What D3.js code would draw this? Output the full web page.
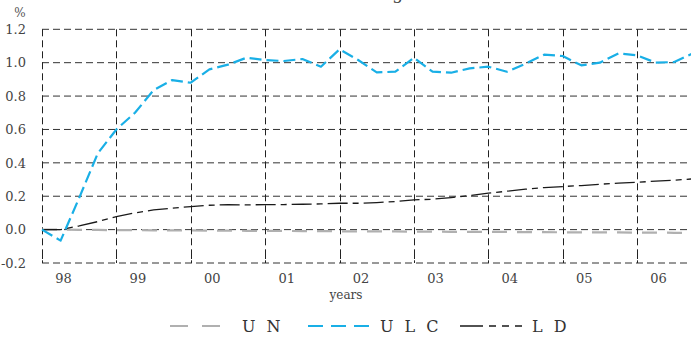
<!DOCTYPE html>
<html>
<head>
<meta charset="utf-8">
<script src="https://cdn.jsdelivr.net/npm/d3@7/dist/d3.min.js"></script>
<style>
  html, body { margin: 0; padding: 0; background: #fff; }
  svg { display: block; }
</style>
</head>
<body>
<svg id="chart" width="691" height="339"></svg>
<script>
// ---- data (quarterly, 1998Q1 .. 2006Q4) ----
const yearLabels = ["98", "99", "00", "01", "02", "03", "04", "05", "06"];
const yTicks = [-0.2, 0.0, 0.2, 0.4, 0.6, 0.8, 1.0, 1.2];

const ULC = [0.00, -0.066, 0.19, 0.457, 0.60, 0.70, 0.836, 0.896, 0.88, 0.96, 0.988,
             1.03, 1.016, 1.01, 1.022, 0.976, 1.08, 1.016, 0.942, 0.946, 1.03, 0.946,
             0.94, 0.966, 0.976, 0.946, 0.994, 1.048, 1.04, 0.984, 1.0, 1.056, 1.044,
             1.0, 1.004, 1.056];
const LD = [0.00, 0.00, 0.022, 0.048, 0.078, 0.10, 0.118, 0.128, 0.138, 0.146, 0.150,
            0.148, 0.150, 0.150, 0.152, 0.154, 0.158, 0.158, 0.162, 0.168, 0.178, 0.182,
            0.192, 0.204, 0.218, 0.230, 0.242, 0.252, 0.258, 0.264, 0.272, 0.278, 0.284,
            0.290, 0.296, 0.304];
const UN = [0.00, 0.00, -0.001, -0.002, -0.003, -0.003, -0.004, -0.005, -0.005, -0.006, -0.006,
            -0.007, -0.007, -0.008, -0.009, -0.009, -0.010, -0.010, -0.011, -0.011, -0.012, -0.012,
            -0.013, -0.013, -0.014, -0.014, -0.015, -0.015, -0.016, -0.016, -0.017, -0.017, -0.018,
            -0.018, -0.019, -0.019];

const seriesNames = ["UN", "ULC", "LD"];
const legendLabels = ["U N", "U L C", "L D"];

// ---- styles ----
const FONT = "'DejaVu Serif', 'Liberation Serif', 'Noto Serif', 'Times New Roman', serif";
const styles = {
  UN:  { color: "#b0b0b0", width: 2.2, dash: "15,10" },
  ULC: { color: "#19afe6", width: 2.2, dash: "12,5" },
  LD:  { color: "#1a1a1a", width: 1.3, dash: "20,5,6,5" }
};
const seriesData = { UN: UN, ULC: ULC, LD: LD };

const svg = d3.select("#chart");

const x = d3.scaleLinear().domain([0, 32]).range([42, 637.1]);
const y = d3.scaleLinear().domain([-0.2, 1.2]).range([263, 29.3]);
const xRight = 691;

// ---- grid ----
const grid = svg.append("g");
grid.selectAll("line.h").data(yTicks).join("line")
  .attr("x1", x(0)).attr("x2", xRight)
  .attr("y1", d => y(d)).attr("y2", d => y(d))
  .attr("stroke", "#333").attr("stroke-width", 1)
  .attr("stroke-dasharray", "7,4");

const vTicks = yearLabels.map((d, i) => i * 4);
grid.selectAll("line.v").data(vTicks).join("line")
  .attr("x1", d => Math.round(x(d)) + 0.5).attr("x2", d => Math.round(x(d)) + 0.5)
  .attr("y1", y(1.2)).attr("y2", y(-0.2))
  .attr("stroke", "#222").attr("stroke-width", 1)
  .attr("stroke-dasharray", "7,4");

grid.selectAll("line.bt").data(vTicks).join("line")
  .attr("x1", d => Math.round(x(d)) + 0.5).attr("x2", d => Math.round(x(d)) + 0.5)
  .attr("y1", y(-0.2) - 10).attr("y2", y(-0.2) - 4)
  .attr("stroke", "#222").attr("stroke-width", 1);

// ---- axes ----
const yAxis = d3.axisLeft(y).tickValues(yTicks).tickSize(0).tickPadding(16)
  .tickFormat(d => d.toFixed(1));
const gy = svg.append("g").attr("transform", `translate(${x(0)},0)`).call(yAxis);
gy.select(".domain").remove();
gy.attr("font-family", FONT).attr("font-size", 13);
gy.selectAll("text").attr("fill", "#444");

const xAxis = d3.axisBottom(x).tickValues(vTicks).tickSize(0).tickPadding(11)
  .tickFormat((d, i) => yearLabels[i]);
const gx = svg.append("g").attr("transform", `translate(0,${y(-0.2)})`).call(xAxis);
gx.select(".domain").remove();
gx.attr("font-family", FONT).attr("font-size", 13);
gx.selectAll("text").attr("fill", "#444").attr("dx", 21);

svg.append("text").attr("x", 346).attr("y", 299).attr("text-anchor", "middle")
  .attr("font-family", FONT).attr("font-size", 12).attr("fill", "#444").text("years");

svg.append("text").attr("x", 20).attr("y", 17).attr("text-anchor", "middle")
  .attr("font-family", FONT).attr("font-size", 12).attr("fill", "#555").text("%");

// cut-off title (only descender visible in the reference)
svg.append("text").attr("x", 330).attr("y", -1).attr("text-anchor", "middle")
  .attr("font-family", FONT).attr("font-size", 17).attr("fill", "#444").text("Cumulative change");

// ---- lines ----
const line = d3.line().x((d, i) => x(i)).y(d => y(d));
const plot = svg.append("g");
["UN", "LD", "ULC"].forEach(name => {
  const s = styles[name];
  plot.append("path").datum(seriesData[name])
    .attr("d", line)
    .attr("fill", "none")
    .attr("stroke", s.color)
    .attr("stroke-width", s.width)
    .attr("stroke-dasharray", s.dash)
    .attr("stroke-linejoin", "round");
});

// ---- legend ----
const legendPos = [
  { x1: 170, x2: 221, tx: 242, dash: "18,14" },
  { x1: 308, x2: 370, tx: 380, dash: "15,8" },
  { x1: 460, x2: 522, tx: 532, dash: "23,6,7,6,7,6" }
];
const lg = svg.append("g");
seriesNames.forEach((name, i) => {
  const p = legendPos[i];
  const s = styles[name];
  lg.append("line")
    .attr("x1", p.x1).attr("x2", p.x2).attr("y1", 326).attr("y2", 326)
    .attr("stroke", s.color).attr("stroke-width", name === "LD" ? 1.5 : 2.2)
    .attr("stroke-dasharray", p.dash);
  lg.append("text")
    .attr("x", p.tx).attr("y", 332)
    .attr("font-family", FONT).attr("font-size", 16)
    .attr("fill", "#333")
    .attr("letter-spacing", "3px")
    .text(legendLabels[i]);
});
</script>
</body>
</html>
